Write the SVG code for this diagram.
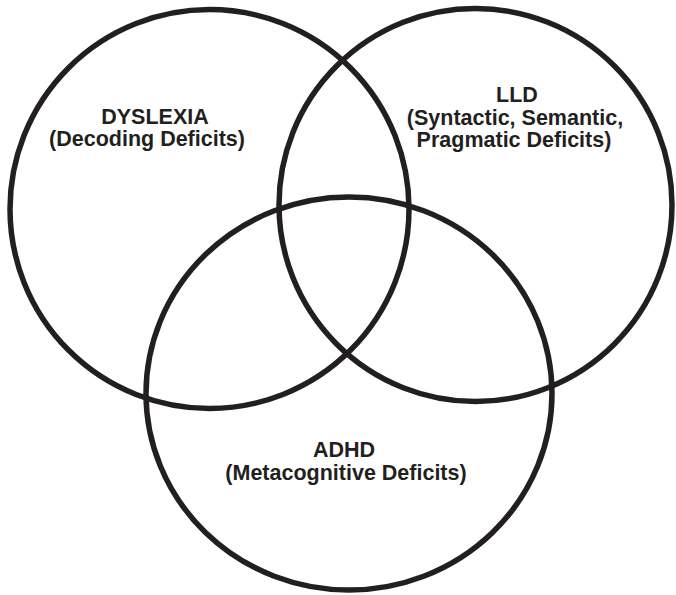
<svg xmlns="http://www.w3.org/2000/svg" width="676" height="595" viewBox="0 0 676 595">
  <style>
    .ring { fill: none; stroke: #231f20; stroke-width: 5.5; }
    .lbl { font-family: "Liberation Sans", Arial, sans-serif; font-weight: bold; font-size: 21.5px; fill: #231f20; text-anchor: middle; }
  </style>
  <rect width="676" height="595" fill="#ffffff"/>
  <g id="dyslexia">
    <circle class="ring" cx="209.5" cy="209" r="199.5"/>
    <text class="lbl" x="155" y="124">DYSLEXIA</text>
    <text class="lbl" x="147" y="146">(Decoding Deficits)</text>
  </g>
  <g id="lld">
    <circle class="ring" cx="475.5" cy="205" r="196.5"/>
    <text class="lbl" x="517" y="102">LLD</text>
    <text class="lbl" x="515" y="125">(Syntactic, Semantic,</text>
    <text class="lbl" x="514" y="147">Pragmatic Deficits)</text>
  </g>
  <g id="adhd">
    <ellipse class="ring" cx="349" cy="393.5" rx="203" ry="196.5"/>
    <text class="lbl" x="344" y="457">ADHD</text>
    <text class="lbl" x="346" y="480">(Metacognitive Deficits)</text>
  </g>
</svg>
